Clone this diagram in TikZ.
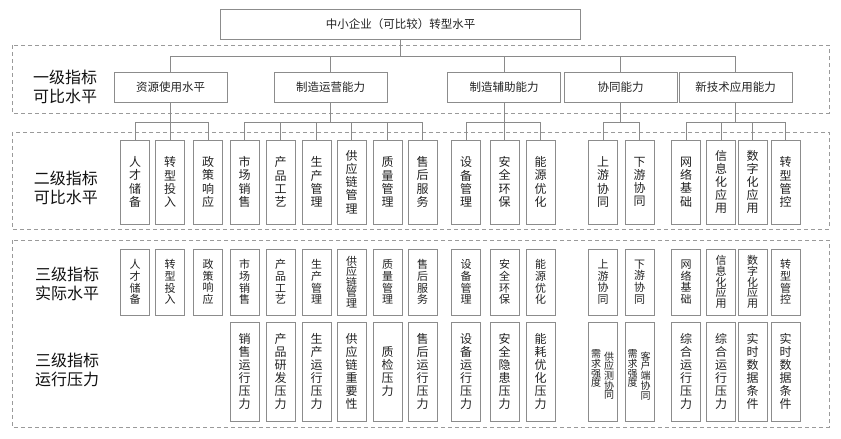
\documentclass[tikz,border=0pt]{standalone}
\usepackage{fontspec}
\setmainfont{Noto Sans CJK SC}
\usetikzlibrary{calc}
\definecolor{boxc}{HTML}{8C8C8C}
\definecolor{dashc}{HTML}{9A9A9A}
\definecolor{linec}{HTML}{8A8A8A}
\definecolor{txt}{HTML}{222222}
\definecolor{lbl}{HTML}{111111}
\tikzset{
  hbox/.style={draw=boxc, line width=0.9pt, inner sep=0pt, text=txt, font=\fontsize{11.5}{13}\selectfont},
  lvone/.style={hbox, minimum width=113pt, minimum height=30pt},
  vbox/.style={draw=boxc, line width=0.9pt, inner sep=0pt, text=txt, align=center, minimum width=29pt},
  lvtwo/.style={vbox, minimum height=84pt, font=\fontsize{12}{13.2}\selectfont},
  lvthreea/.style={vbox, minimum height=66pt, font=\fontsize{11}{11.7}\selectfont},
  lvthreeb/.style={vbox, minimum height=99pt, font=\fontsize{12}{13.1}\selectfont},
  coltext/.style={inner sep=0pt, text=txt, align=center, anchor=north, font=\fontsize{10}{9.7}\selectfont},
  dashbox/.style={draw=dashc, line width=0.8pt, dash pattern=on 4pt off 3pt},
  conn/.style={draw=linec, line width=0.9pt},
  lvlabel/.style={inner sep=0pt, text=lbl, align=center, font=\fontsize{16}{19}\selectfont}
}
\begin{document}
\begin{tikzpicture}[x=1pt,y=-1pt]
\useasboundingbox (0,0) rectangle (841,439);
% dashed bands
\draw[dashbox] (12,45) rectangle (829,113);
\draw[dashbox] (12,132) rectangle (829,229);
\draw[dashbox] (12,240) rectangle (829,427);
% level labels
\node[lvlabel] (lab1) at (65,87) {一级指标\\可比水平};
\node[lvlabel] (lab2) at (66,188) {二级指标\\可比水平};
\node[lvlabel] (lab3) at (67,284) {三级指标\\实际水平};
\node[lvlabel] (lab4) at (67,370) {三级指标\\运行压力};
% top
\node[hbox, minimum width=360pt, minimum height=30pt] (top) at (400.5,24) {中小企业（可比较）转型水平};
% level 1
\node[lvone] (A) at (170.5,87) {资源使用水平};
\node[lvone] (B) at (330.5,87) {制造运营能力};
\node[lvone] (C) at (504,87) {制造辅助能力};
\node[lvone] (D) at (620.5,87) {协同能力};
\node[lvone] (E) at (735.5,87) {新技术应用能力};
\foreach \c in {A,B,C,D,E}{
  \draw[conn] (top.south) -- ++(0,17) -| (\c.north);
}
% level 2
\node[lvtwo] (a1) at (135,182) {人\\才\\储\\备};
\node[lvtwo] (a2) at (170,182) {转\\型\\投\\入};
\node[lvtwo] (a3) at (208,182) {政\\策\\响\\应};
\node[lvtwo] (b1) at (244.5,182) {市\\场\\销\\售};
\node[lvtwo] (b2) at (280.5,182) {产\\品\\工\\艺};
\node[lvtwo] (b3) at (316.5,182) {生\\产\\管\\理};
\node[lvtwo] (b4) at (351.5,182) {供\\应\\链\\管\\理};
\node[lvtwo] (b5) at (387.5,182) {质\\量\\管\\理};
\node[lvtwo] (b6) at (422.5,182) {售\\后\\服\\务};
\node[lvtwo] (c1) at (466,182) {设\\备\\管\\理};
\node[lvtwo] (c2) at (504.5,182) {安\\全\\环\\保};
\node[lvtwo] (c3) at (540.5,182) {能\\源\\优\\化};
\node[lvtwo] (d1) at (603,182) {上\\游\\协\\同};
\node[lvtwo] (d2) at (639.5,182) {下\\游\\协\\同};
\node[lvtwo] (e1) at (686,182) {网\\络\\基\\础};
\node[lvtwo] (e2) at (721,182) {信\\息\\化\\应\\用};
\node[lvtwo] (e3) at (752.5,182) {数\\字\\化\\应\\用};
\node[lvtwo] (e4) at (785.5,182) {转\\型\\管\\控};
\foreach \c in {a1,a2,a3}{\draw[conn] (A.south) -- ++(0,20) -| (\c.north);}
\foreach \c in {b1,b2,b3,b4,b5,b6}{\draw[conn] (B.south) -- ++(0,20) -| (\c.north);}
\foreach \c in {c1,c2,c3}{\draw[conn] (C.south) -- ++(0,20) -| (\c.north);}
\foreach \c in {d1,d2}{\draw[conn] (D.south) -- ++(0,20) -| (\c.north);}
\foreach \c in {e1,e2,e3,e4}{\draw[conn] (E.south) -- ++(0,20) -| (\c.north);}
% level 3 actual
\node[lvthreea] (ra1) at (135,282) {人\\才\\储\\备};
\node[lvthreea] (ra2) at (170,282) {转\\型\\投\\入};
\node[lvthreea] (ra3) at (208,282) {政\\策\\响\\应};
\node[lvthreea] (rb1) at (244.5,282) {市\\场\\销\\售};
\node[lvthreea] (rb2) at (280.5,282) {产\\品\\工\\艺};
\node[lvthreea] (rb3) at (316.5,282) {生\\产\\管\\理};
\node[lvthreea, font=\fontsize{11}{10.6}\selectfont] (rb4) at (351.5,282) {供\\应\\链\\管\\理};
\node[lvthreea] (rb5) at (387.5,282) {质\\量\\管\\理};
\node[lvthreea] (rb6) at (422.5,282) {售\\后\\服\\务};
\node[lvthreea] (rc1) at (466,282) {设\\备\\管\\理};
\node[lvthreea] (rc2) at (504.5,282) {安\\全\\环\\保};
\node[lvthreea] (rc3) at (540.5,282) {能\\源\\优\\化};
\node[lvthreea] (rd1) at (603,282) {上\\游\\协\\同};
\node[lvthreea] (rd2) at (639.5,282) {下\\游\\协\\同};
\node[lvthreea] (re1) at (686,282) {网\\络\\基\\础};
\node[lvthreea, font=\fontsize{11}{10.6}\selectfont] (re2) at (721,282) {信\\息\\化\\应\\用};
\node[lvthreea, font=\fontsize{11}{10.6}\selectfont] (re3) at (752.5,282) {数\\字\\化\\应\\用};
\node[lvthreea] (re4) at (785.5,282) {转\\型\\管\\控};
% level 3 pressure
\node[lvthreeb] (pb1) at (244.5,371.5) {销\\售\\运\\行\\压\\力};
\node[lvthreeb] (pb2) at (280.5,371.5) {产\\品\\研\\发\\压\\力};
\node[lvthreeb] (pb3) at (316.5,371.5) {生\\产\\运\\行\\压\\力};
\node[lvthreeb] (pb4) at (351.5,371.5) {供\\应\\链\\重\\要\\性};
\node[lvthreeb] (pb5) at (387.5,371.5) {质\\检\\压\\力};
\node[lvthreeb] (pb6) at (422.5,371.5) {售\\后\\运\\行\\压\\力};
\node[lvthreeb] (pc1) at (466,371.5) {设\\备\\运\\行\\压\\力};
\node[lvthreeb] (pc2) at (504.5,371.5) {安\\全\\隐\\患\\压\\力};
\node[lvthreeb] (pc3) at (540.5,371.5) {能\\耗\\优\\化\\压\\力};
\node[lvthreeb] (pd1) at (603,371.5) {};
\node[lvthreeb] (pd2) at (639.5,371.5) {};
\node[coltext] (pd1r) at ($(pd1.north)+(6,30)$) {供\\应\\测\\协\\同};
\node[coltext] (pd1l) at ($(pd1.north)+(-7,28)$) {需\\求\\强\\度};
\node[coltext] (pd2r) at ($(pd2.north)+(6,30)$) {客\\户\\端\\协\\同};
\node[coltext] (pd2l) at ($(pd2.north)+(-7,28)$) {需\\求\\强\\度};
\node[lvthreeb] (pe1) at (686,371.5) {综\\合\\运\\行\\压\\力};
\node[lvthreeb] (pe2) at (721,371.5) {综\\合\\运\\行\\压\\力};
\node[lvthreeb] (pe3) at (752.5,371.5) {实\\时\\数\\据\\条\\件};
\node[lvthreeb] (pe4) at (785.5,371.5) {实\\时\\数\\据\\条\\件};
\end{tikzpicture}
\end{document}
